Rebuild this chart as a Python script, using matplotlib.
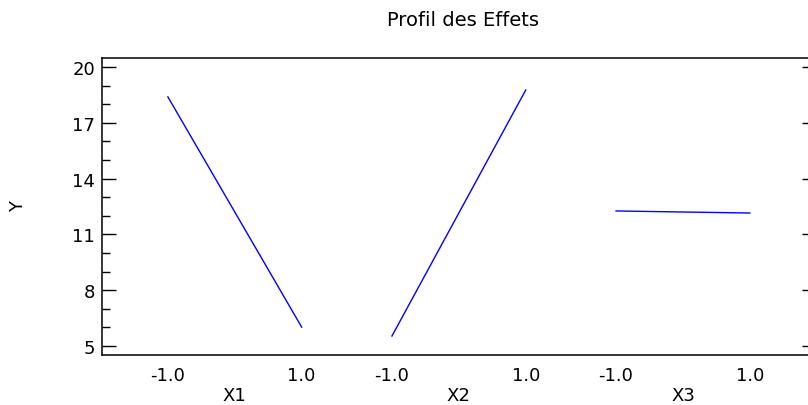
import numpy as np
import matplotlib
matplotlib.use('Agg')
import matplotlib.pyplot as plt
import matplotlib.transforms as mtransforms

plt.rcParams['font.family'] = ['DejaVu Sans']

# effect profile data
factors = ['X1', 'X2', 'X3']
levels = [-1.0, 1.0]
y_low = [18.39, 5.54, 12.26]
y_high = [6.02, 18.76, 12.15]
level_labels = ['-1.0', '1.0']
y_ticks = [5, 8, 11, 14, 17, 20]

spacing = 3.35  # distance between factor centres, in level units

fig = plt.figure(figsize=(8.08, 4.06), dpi=100)
ax = fig.add_axes([102 / 808, 1 - 356 / 406, 706 / 808, 297 / 406])

xticks = []
xticklabels = []
for i, name in enumerate(factors):
    xs = [i * spacing + lv for lv in levels]
    ax.plot(xs, [y_low[i], y_high[i]], color='#0000ff', lw=1.0)
    xticks += xs
    xticklabels += level_labels

ax.set_xlim(-1.985, 2 * spacing + 1.0 + 0.87)
ax.set_ylim(4.52, 20.48)

ax.set_xticks(xticks)
ax.set_xticklabels(xticklabels, fontsize=13)
ax.tick_params(axis='x', length=0, pad=8)

ax.set_yticks(y_ticks)
ax.set_yticks(np.arange(5, 21, 1), minor=True)
ax.tick_params(axis='y', which='major', direction='in', length=10, width=1.0,
               labelsize=13, pad=5)
ax.tick_params(axis='y', which='minor', direction='in', length=5.5, width=1.0)

ax.spines['right'].set_visible(False)
for s in ['left', 'top', 'bottom']:
    ax.spines[s].set_linewidth(1.1)

# right side ticks (major only, short)
ax2 = ax.twinx()
ax2.set_ylim(ax.get_ylim())
ax2.set_yticks(y_ticks)
ax2.set_yticklabels([])
ax2.tick_params(axis='y', direction='in', length=4.5, width=1.0)
for s in ax2.spines.values():
    s.set_visible(False)

trans = mtransforms.blended_transform_factory(ax.transData, ax.transAxes)
for i, name in enumerate(factors):
    ax.text(i * spacing, -0.133, name, transform=trans, ha='center', va='center',
            fontsize=13)

fig.text(18 / 808, 1 - 207 / 406, 'Y', rotation=90, ha='center', va='center',
         fontsize=13)
fig.text(463 / 808, 1 - 20 / 406, 'Profil des Effets', ha='center', va='center',
         fontsize=14)

fig.savefig('out.png', dpi=100)
